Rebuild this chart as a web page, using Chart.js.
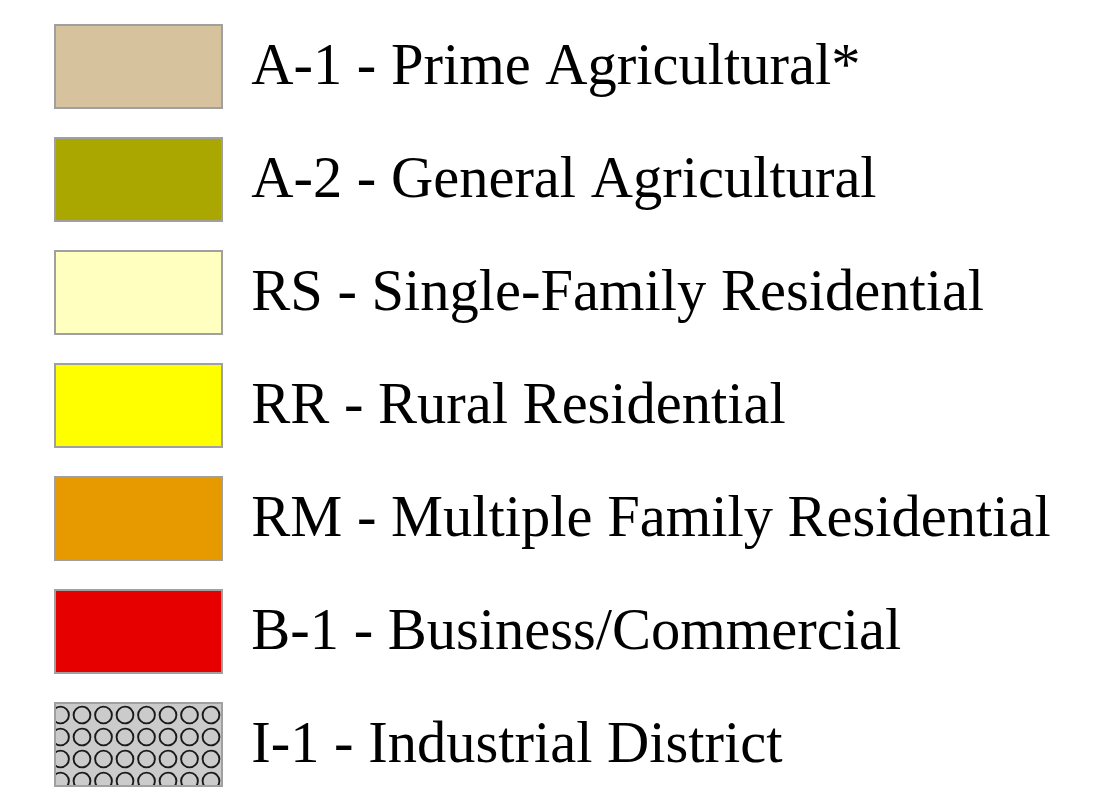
<!DOCTYPE html>
<html>
<head>
<meta charset="utf-8">
<title>Zoning Legend</title>
<script src="https://cdn.jsdelivr.net/npm/chart.js@4/dist/chart.umd.min.js"></script>
<style>
  html, body { margin: 0; padding: 0; background: #ffffff; }
  #wrap { width: 1106px; height: 808px; position: relative; }
</style>
</head>
<body>
<div id="wrap"><canvas id="zoningChart"></canvas></div>
<script>
// Zoning districts shown in the legend
const zoneLabels = [
  "A-1 - Prime Agricultural*",
  "A-2 - General Agricultural",
  "RS - Single-Family Residential",
  "RR - Rural Residential",
  "RM - Multiple Family Residential",
  "B-1 - Business/Commercial",
  "I-1 - Industrial District"
];
const zoneColors = ["#d7c29e", "#aaa800", "#ffffc0", "#ffff00", "#e69a00", "#e60000", "pattern"];
const zoneValues = [[], [], [], [], [], [], []];

// Industrial hatch: grey with small ring outlines
function makeRingPattern() {
  const tile = document.createElement("canvas");
  tile.width = 43;
  tile.height = 44;
  const c = tile.getContext("2d");
  c.fillStyle = "#cbcbcb";
  c.fillRect(0, 0, 43, 44);
  c.strokeStyle = "#1a1a1a";
  c.lineWidth = 1.9;
  const centers = [[17.5, 11], [39, 11], [17.5, 33], [39, 33]];
  centers.forEach(([cx, cy]) => {
    [-43, 0, 43].forEach(dx => {
      [-44, 0, 44].forEach(dy => {
        c.beginPath();
        c.arc(cx + dx, cy + dy, 8.4, 0, Math.PI * 2);
        c.stroke();
      });
    });
  });
  return c.createPattern(tile, "repeat");
}

// Labels in the original sit a little below the swatch centre
const textNudge = {
  id: "textNudge",
  beforeDraw(chart) {
    const c = chart.ctx;
    const orig = c.fillText;
    c._origFillText = orig;
    c.fillText = function (t, x, y, w) {
      if (w === undefined) return orig.call(c, t, x, y + 2.5);
      return orig.call(c, t, x, y + 2.5, w);
    };
  },
  afterDraw(chart) {
    chart.ctx.fillText = chart.ctx._origFillText;
  }
};

const ctx = document.getElementById("zoningChart").getContext("2d");
const ringPattern = makeRingPattern();

const datasets = zoneLabels.map((label, i) => ({
  label: label,
  data: zoneValues[i],
  backgroundColor: zoneColors[i] === "pattern" ? ringPattern : zoneColors[i],
  borderColor: "#a0a0a0",
  borderWidth: 2
}));

new Chart(ctx, {
  type: "bar",
  data: { labels: [], datasets: datasets },
  plugins: [textNudge],
  options: {
    responsive: true,
    maintainAspectRatio: false,
    animation: false,
    layout: { padding: { top: -5, left: 25, right: 0, bottom: -12 } },
    scales: {
      x: { display: false },
      y: { display: false }
    },
    plugins: {
      tooltip: { enabled: false },
      legend: {
        position: "left",
        align: "start",
        maxWidth: 1080,
        labels: {
          boxWidth: 167,
          boxHeight: 83,
          padding: 30,
          color: "#000000",
          font: { family: "'Liberation Serif', 'Times New Roman', serif", size: 58.5 }
        }
      }
    }
  }
});
</script>
</body>
</html>
